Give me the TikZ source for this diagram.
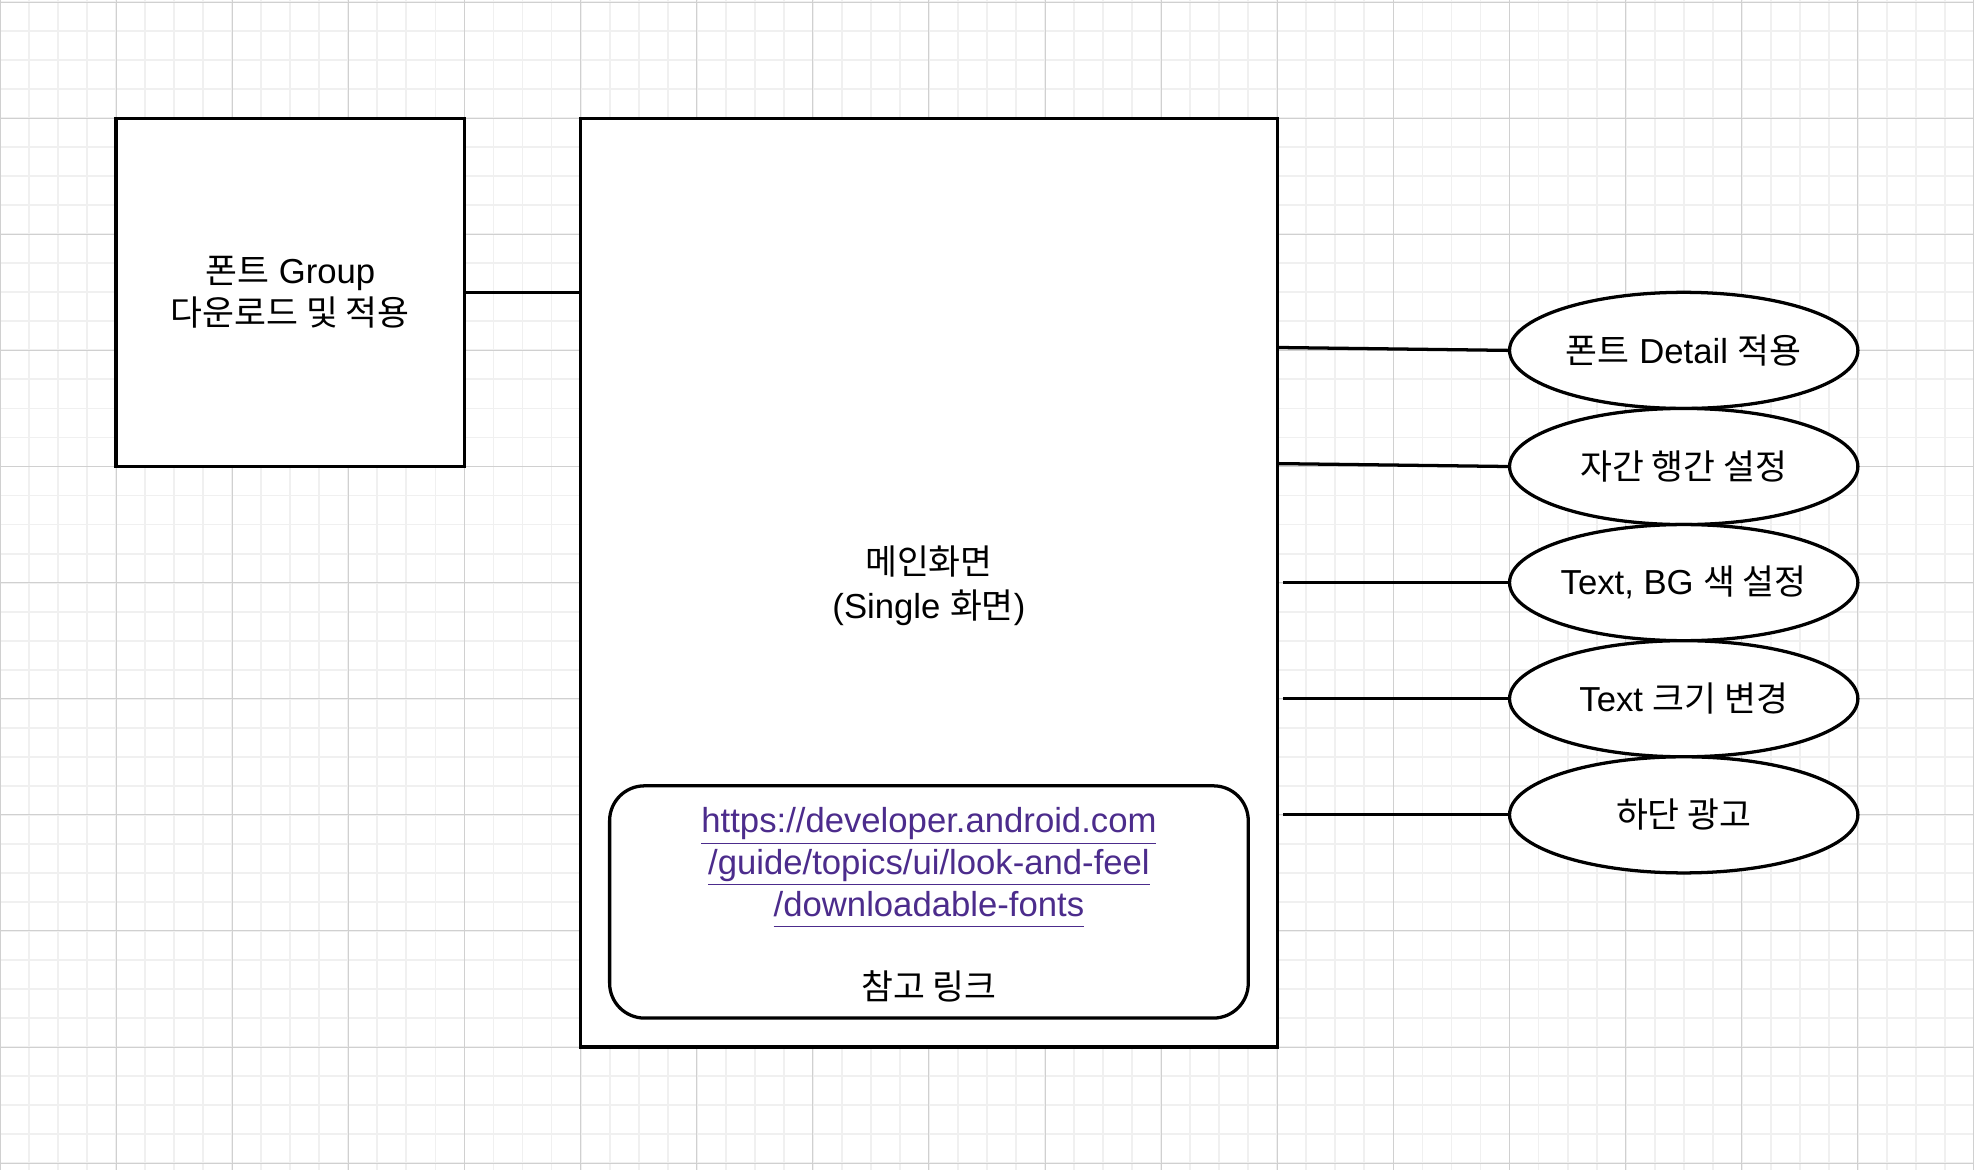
\documentclass[tikz,border=0pt]{standalone}
\usepackage{fontspec}
\setmainfont{Liberation Sans}
\newfontfamily\kr{Noto Sans CJK KR}
\usetikzlibrary{shapes.geometric,positioning}
\definecolor{linkpurple}{RGB}{76,44,140}
\definecolor{gridmajor}{RGB}{208,208,208}
\definecolor{gridminor}{RGB}{240,240,240}
\newcommand{\urlline}[1]{\underline{#1\vphantom{p}}}

\begin{document}
\begin{tikzpicture}[line width=1.6pt,font=\fontsize{17}{20.4}\selectfont,
  box/.style={draw,fill=white,rectangle,inner sep=0pt},
  oval/.style={draw,fill=white,ellipse,minimum width=6cm,minimum height=2cm,inner sep=0pt}]

\useasboundingbox (0,0.035) rectangle (34,-20.115);
\draw[gridminor,line width=0.9pt,step=0.5] (0,0.035) grid (34,-20.115);
\draw[gridmajor,line width=0.5pt,step=2] (0,0.035) grid (34,-20.115);

\node[box,minimum width=6cm,minimum height=6cm,align=center] (fg) at (5,-5)
  {{\kr 폰트} Group\\{\kr 다운로드 및 적용}};
\node[box,minimum width=12cm,minimum height=16cm] (main) at (16,-10) {};
\node[align=center] (title) at (16,-10.05) {{\kr 메인화면}\\[1pt](Single {\kr 화면})};
\node[box,rounded corners=0.6cm,minimum width=11cm,minimum height=4cm,align=center,text=linkpurple] (ref) at (16,-15.5) {};
\node[align=center,text=linkpurple] (link) at (16,-15.55)
  {\urlline{https://developer.android.com}\\\urlline{/guide/topics/ui/look-and-feel}\\\urlline{/downloadable-fonts}\\[20.4pt]{\color{black}\kr 참고 링크}};

\node[oval] (e1) at (29,-6)  {{\kr 폰트} Detail {\kr 적용}};
\node[oval] (e2) at (29,-8)  {{\kr 자간 행간 설정}};
\node[oval] (e3) at (29,-10) {Text, BG {\kr 색 설정}};
\node[oval] (e4) at (29,-12) {Text {\kr 크기 변경}};
\node[oval] (e5) at (29,-14) {{\kr 하단 광고}};

\coordinate (c1) at (22,-5.95);
\coordinate (c2) at (22,-7.95);
\coordinate (c3) at (22.1,-10);
\coordinate (c4) at (22.1,-12);
\coordinate (c5) at (22.1,-14);

\path[-]
    (fg.east) edge (fg.east -| main.west)
    (c1) edge (e1.west)
    (c2) edge (e2.west)
    (c3) edge (e3.west)
    (c4) edge (e4.west)
    (c5) edge (e5.west);
\end{tikzpicture}
\end{document}
